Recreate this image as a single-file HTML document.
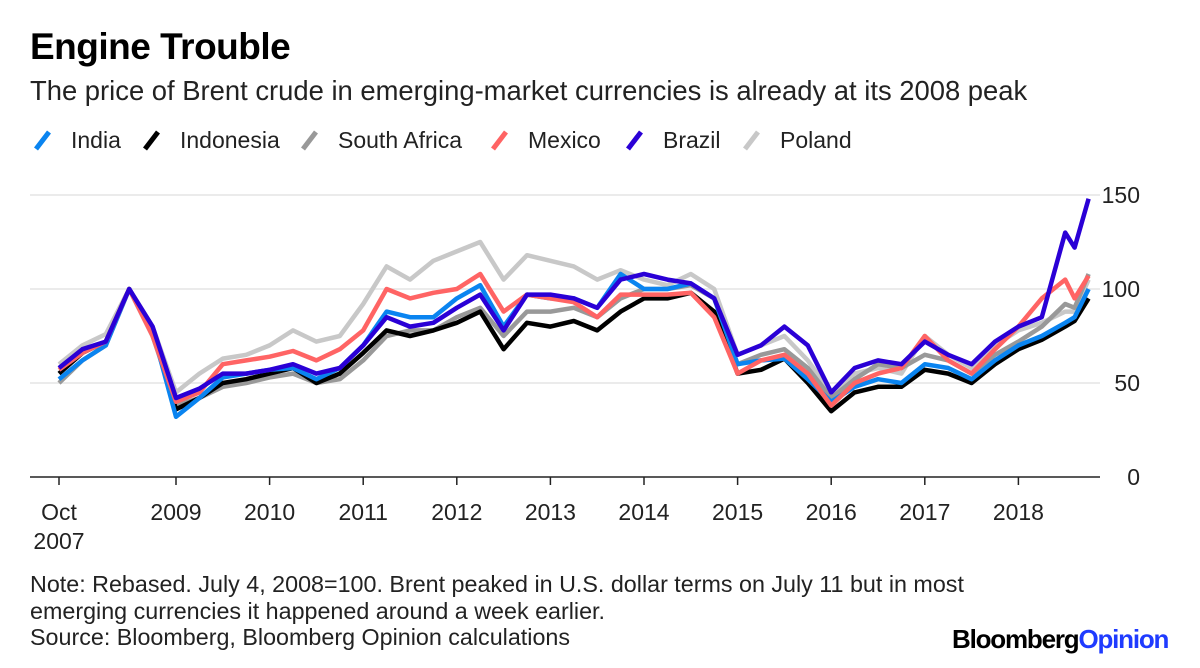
<!DOCTYPE html>
<html><head><meta charset="utf-8"><style>
body{margin:0;width:1200px;height:668px;background:#fff;font-family:"Liberation Sans",sans-serif;overflow:hidden;position:relative}
.t{position:absolute;white-space:nowrap}
</style></head><body>
<div class="t" style="left:30px;top:27px;font-size:37px;font-weight:bold;letter-spacing:-0.5px;line-height:40px">Engine Trouble</div>
<div class="t" style="left:30px;top:76px;font-size:27.4px;color:#222;line-height:30px">The price of Brent crude in emerging-market currencies is already at its 2008 peak</div>
<svg id="chart" width="1200" height="668" style="position:absolute;left:0;top:0"></svg>
<div class="t" style="left:30px;top:571px;font-size:23.3px;line-height:26.5px;color:#222">Note: Rebased. July 4, 2008=100. Brent peaked in U.S. dollar terms on July 11 but in most<br>emerging currencies it happened around a week earlier.<br>Source: Bloomberg, Bloomberg Opinion calculations</div>
<div class="t" style="left:952px;top:624px;font-size:26px;font-weight:bold;letter-spacing:-1.2px">Bloomberg<span style="color:#1f3bff">Opinion</span></div>
<script>
const times=[2007.75,2008.0,2008.25,2008.5,2008.75,2009.0,2009.25,2009.5,2009.75,2010.0,2010.25,2010.5,2010.75,2011.0,2011.25,2011.5,2011.75,2012.0,2012.25,2012.5,2012.75,2013.0,2013.25,2013.5,2013.75,2014.0,2014.25,2014.5,2014.75,2015.0,2015.25,2015.5,2015.75,2016.0,2016.25,2016.5,2016.75,2017.0,2017.25,2017.5,2017.75,2018.0,2018.25,2018.5,2018.6,2018.75];
const poland=[60,70,76,100,80,45,55,63,65,70,78,72,75,92,112,105,115,120,125,105,118,115,112,105,110,105,102,108,100,65,70,75,62,45,55,58,55,75,65,58,70,78,82,88,88,105];
const southAfrica=[50,62,70,100,75,38,42,48,50,53,55,50,52,62,75,78,78,85,90,75,88,88,90,85,95,100,100,102,95,60,65,68,58,42,52,60,58,65,62,55,65,72,80,92,90,108];
const indonesia=[55,66,72,100,78,36,42,50,52,55,58,50,55,66,78,75,78,82,88,68,82,80,83,78,88,95,95,98,88,55,57,63,50,35,45,48,48,57,55,50,60,68,73,80,83,95];
const india=[52,62,70,100,78,32,42,53,55,57,58,52,58,70,88,85,85,95,102,80,97,95,95,90,108,100,100,103,95,60,62,63,52,40,48,52,50,60,58,52,62,70,75,82,85,100];
const mexico=[57,66,72,100,75,40,45,60,62,64,67,62,68,78,100,95,98,100,108,88,97,95,93,85,97,97,97,98,85,55,62,65,55,38,50,55,58,75,62,55,68,80,95,105,95,107];
const brazil=[58,68,72,100,80,42,47,55,55,57,60,55,58,70,85,80,82,90,97,78,97,97,95,90,105,108,105,103,95,65,70,80,70,45,58,62,60,72,65,60,72,80,85,130,122,148];
const yTicks=[0,50,100,150];
const xTickYears=[2007.75,2009,2010,2011,2012,2013,2014,2015,2016,2017,2018];
const xTickLabels=["Oct","2009","2010","2011","2012","2013","2014","2015","2016","2017","2018"];
const legendNames=["India","Indonesia","South Africa","Mexico","Brazil","Poland"];
const legendColors=["#0a84f0","#000000","#999999","#ff6464","#2a00d6","#c8c8c8"];

const svg=document.getElementById('chart');const NS="http://www.w3.org/2000/svg";
const X=t=>59+(t-2007.75)*93.6;
const Y=v=>477-v*1.88;
function mk(tag,a,p){const e=document.createElementNS(NS,tag);for(const k in a)e.setAttribute(k,a[k]);(p||svg).appendChild(e);return e;}
yTicks.forEach(v=>{
  if(v>0){const g=mk('line',{x1:30,x2:1100,y1:Y(v),y2:Y(v),stroke:'#ebebeb','stroke-width':2});
  
  }
  const tx=mk('text',{x:1140,y:Y(v)+8,'font-size':23,'text-anchor':'end',fill:'#222','font-family':'Liberation Sans'});tx.textContent=v;
  
  
});
const ax=mk('line',{x1:30,x2:1100,y1:477,y2:477,stroke:'#222','stroke-width':1.5});


xTickYears.forEach((t,i)=>{
  const tk=mk('line',{x1:X(t),x2:X(t),y1:477,y2:485,stroke:'#222','stroke-width':1.5});
  
  
  const tx=mk('text',{x:X(t),y:520,'font-size':23,'text-anchor':'middle',fill:'#222','font-family':'Liberation Sans'});tx.textContent=xTickLabels[i];
  
  
});
const yr=mk('text',{x:X(2007.75),y:549,'font-size':23,'text-anchor':'middle',fill:'#222','font-family':'Liberation Sans'});yr.textContent="2007";


const series=[["poland",poland,"#c8c8c8"],["south-africa",southAfrica,"#999999"],["indonesia",indonesia,"#000000"],["india",india,"#0a84f0"],["mexico",mexico,"#ff6464"],["brazil",brazil,"#2a00d6"]];
series.forEach(s=>{
  const d=s[1].map((v,i)=>(i?'L':'M')+X(times[i]).toFixed(1)+','+Y(v).toFixed(1)).join('');
  const p=mk('path',{d:d,fill:'none',stroke:s[2],'stroke-width':4.5,'stroke-linejoin':'round'});
  
  
});
const legendX=[36,145,303,493,628,745];
legendNames.forEach((n,i)=>{
  const lx=legendX[i];
  const g=mk('g',{});
  
  
  mk('line',{x1:lx,y1:149,x2:lx+13,y2:132,stroke:legendColors[i],'stroke-width':5},g);
  const t=mk('text',{x:lx+35,y:148,'font-size':23,fill:'#222','font-family':'Liberation Sans'},g);t.textContent=n;
});
</script>
</body></html>
